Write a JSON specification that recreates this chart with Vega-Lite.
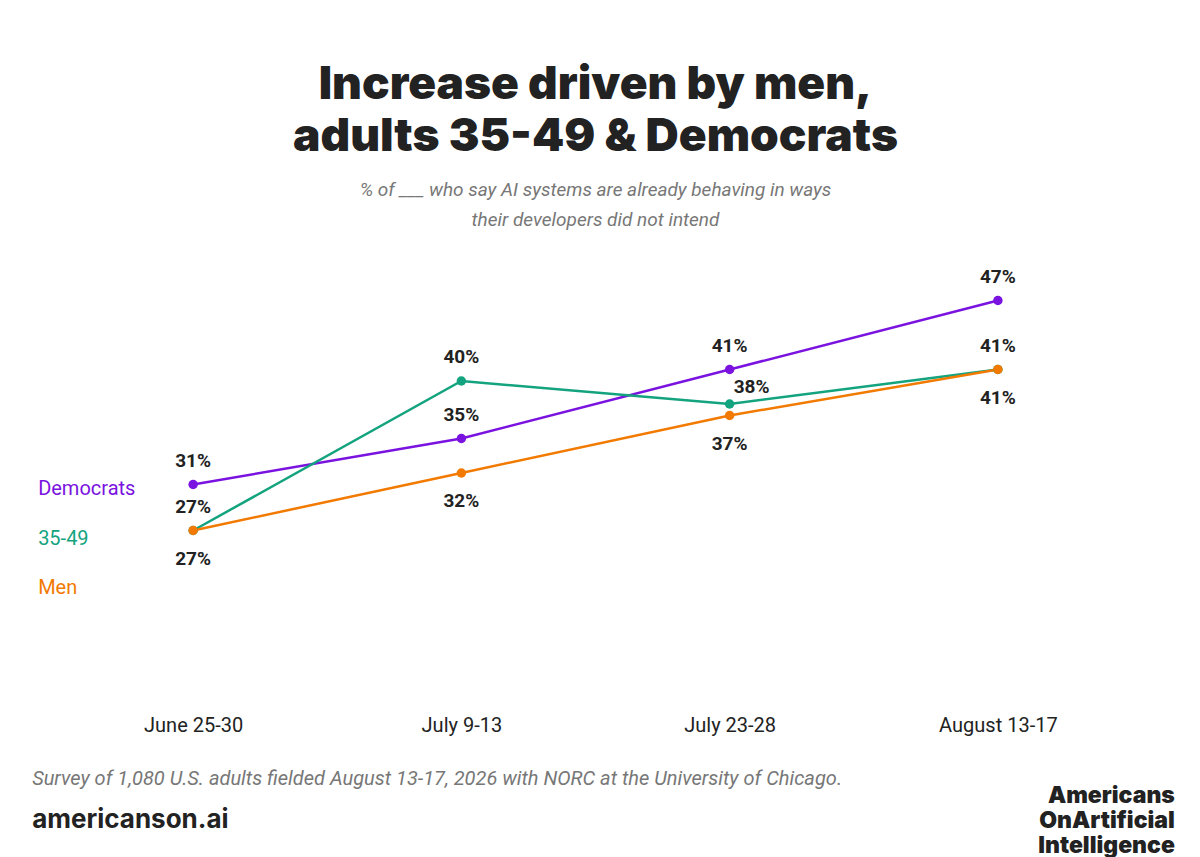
{
"$schema":"https://vega.github.io/schema/vega-lite/v6.json",
"width":1073,"height":460,
"autosize":{"type":"none"},
"padding":{"left":59,"top":243,"right":68,"bottom":154},
"background":"white",
"config":{"view":{"stroke":null},"font":"Roboto"},
"title":{"text":["Increase driven by men,","adults 35-49 & Democrats"],"subtitle":["% of ___ who say AI systems are already behaving in ways","their developers did not intend"],
"fontSize":46,"fontWeight":900,"font":"Inter","color":"#222","lineHeight":52,"anchor":"middle","limit":0,
"subtitleFontSize":19,"subtitleFontStyle":"italic","subtitleColor":"#777","subtitleFont":"Roboto","subtitleLineHeight":30,"subtitlePadding":20,"offset":12},
"data":{"values":[
{"date":"June 25-30","series":"Democrats","value":31},
{"date":"July 9-13","series":"Democrats","value":35},
{"date":"July 23-28","series":"Democrats","value":41},
{"date":"August 13-17","series":"Democrats","value":47},
{"date":"June 25-30","series":"35-49","value":27},
{"date":"July 9-13","series":"35-49","value":40},
{"date":"July 23-28","series":"35-49","value":38},
{"date":"August 13-17","series":"35-49","value":41},
{"date":"June 25-30","series":"Men","value":27},
{"date":"July 9-13","series":"Men","value":32},
{"date":"July 23-28","series":"Men","value":37},
{"date":"August 13-17","series":"Men","value":41}
]},
"transform":[{"calculate":"datum.value + '%'","as":"label"}],
"encoding":{
"x":{"field":"date","type":"ordinal","sort":["June 25-30","July 9-13","July 23-28","August 13-17"],"scale":{"type":"point","padding":0.5},
"axis":{"title":null,"domain":false,"ticks":false,"labelFontSize":20,"labelColor":"#222","labelPadding":12,"labelAngle":0}},
"y":{"field":"value","type":"quantitative","scale":{"domain":[12,52]},"axis":null},
"color":{"field":"series","type":"nominal","scale":{"domain":["Democrats","35-49","Men"],"range":["#7A12E0","#14A37F","#F27A00"]},"legend":null}
},
"layer":[
{"mark":{"type":"line","strokeWidth":2.5}},
{"mark":{"type":"point","filled":true,"size":90,"opacity":1}},
{"transform":[{"filter":"datum.series=='Democrats' || (datum.series=='35-49' && (datum.date=='June 25-30' || datum.date=='July 9-13')) || (datum.series=='Men' && datum.date=='August 13-17')"}],
 "mark":{"type":"text","dy":-24,"fontSize":19,"fontWeight":"bold"},"encoding":{"text":{"field":"label"},"color":{"value":"#222"}}},
{"transform":[{"filter":"(datum.series=='Men' && datum.date!='August 13-17') || (datum.series=='35-49' && datum.date=='August 13-17')"}],
 "mark":{"type":"text","dy":28,"fontSize":19,"fontWeight":"bold"},"encoding":{"text":{"field":"label"},"color":{"value":"#222"}}},
{"transform":[{"filter":"datum.series=='35-49' && datum.date=='July 23-28'"}],
 "mark":{"type":"text","dx":22,"dy":-17,"fontSize":19,"fontWeight":"bold"},"encoding":{"text":{"field":"label"},"color":{"value":"#222"}}},
{"data":{"values":[{"date":"June 25-30","series":"Democrats","ly":30.6},{"date":"June 25-30","series":"35-49","ly":26.3},{"date":"June 25-30","series":"Men","ly":22.0}]},
 "transform":[],
 "mark":{"type":"text","dx":-155,"align":"left","fontSize":20},
 "encoding":{"y":{"field":"ly","type":"quantitative"},"text":{"field":"series"}}},
{"data":{"values":[{"date":"June 25-30","t":"Survey of 1,080 U.S. adults fielded August 13-17, 2026 with NORC at the University of Chicago.","ly":5.4}]},
 "transform":[],
 "mark":{"type":"text","dx":-161,"align":"left","fontSize":20,"fontStyle":"italic"},
 "encoding":{"y":{"field":"ly","type":"quantitative"},"text":{"field":"t"},"color":{"value":"#777"}}},
{"data":{"values":[{"date":"June 25-30","t":"americanson.ai","ly":1.8}]},
 "transform":[],
 "mark":{"type":"text","dx":-161,"align":"left","fontSize":26,"fontWeight":"bold","font":"Inter"},
 "encoding":{"y":{"field":"ly","type":"quantitative"},"text":{"field":"t"},"color":{"value":"#222"}}},
{"data":{"values":[{"date":"August 13-17","t":"Americans\nOnArtificial\nIntelligence","ly":3.9}]},
 "transform":[],
 "mark":{"type":"text","dx":177,"align":"right","baseline":"middle","fontSize":23,"fontWeight":900,"font":"Inter","lineBreak":"\n","lineHeight":25,"letterSpacing":-1.3},
 "encoding":{"y":{"field":"ly","type":"quantitative"},"text":{"field":"t"},"color":{"value":"#222"}}}
]
}
